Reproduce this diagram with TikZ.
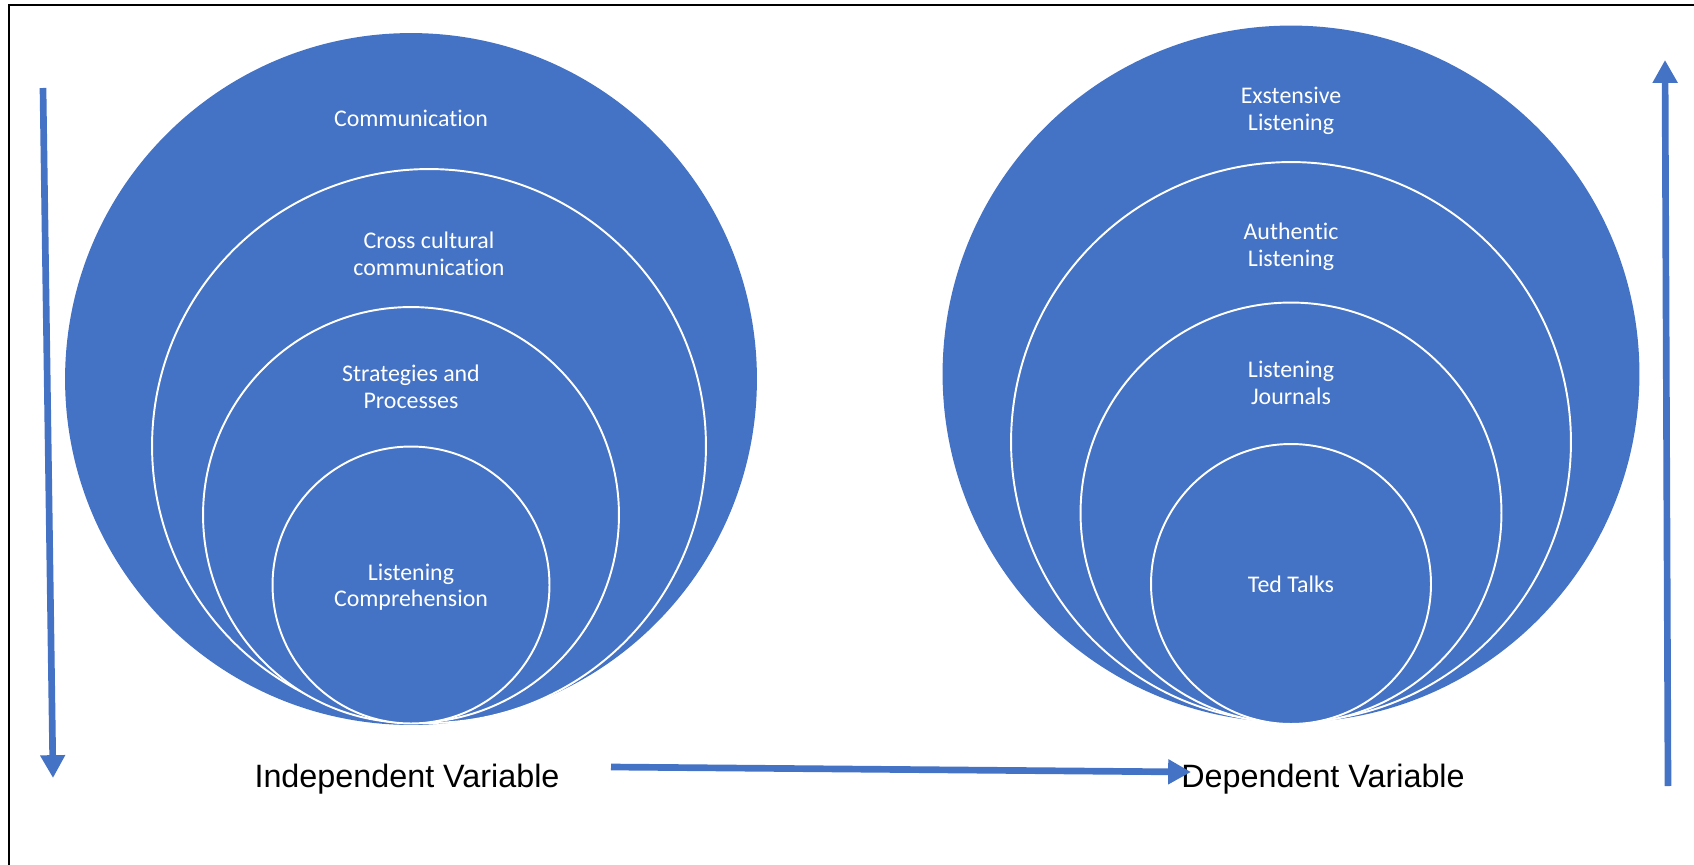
\documentclass[tikz,border=0pt]{standalone}
\usepackage{fontspec}
\setmainfont{Carlito}[Ligatures=NoCommon]
\newfontfamily\arialfont{Liberation Sans}
\usetikzlibrary{arrows.meta, positioning}
\definecolor{ringblue}{HTML}{4472C4}

\begin{document}
\begin{tikzpicture}[
  x=0.02cm, y=-0.02cm,
  outer/.style={circle, fill=ringblue, draw=none, inner sep=0pt},
  ring/.style={circle, fill=ringblue, draw=white, line width=1.1pt, inner sep=0pt},
  lbl/.style={text=white, align=center, inner sep=0pt, font=\fontsize{13.6}{15.1}\selectfont},
  var/.style={anchor=base, inner sep=0pt, font=\arialfont\fontsize{18.4}{21}\selectfont},
  flow/.style={draw=ringblue, line width=3.8pt, -{Triangle[length=13pt,width=13.5pt]}}]

  \useasboundingbox (0,0) rectangle (1694,865);
  \draw[line width=0.8pt] (9,865) -- (9,5) -- (1694,5);

  % independent side
  \node[outer, minimum size=13.84cm] (comm) at (411,379) {};
  \node[ring, minimum size=11.08cm] (cross) at (429,446) {};
  \node[ring, minimum size=8.32cm] (strat) at (411,515) {};
  \node[ring, minimum size=5.54cm] (listcomp) at (411,585) {};

  \node[lbl] (commtxt) at (411,118) {Communication};
  \node[lbl] (crosstxt) at (429,254) {Cross cultural\\communication};
  \node[lbl] (strattxt) at (411,387) {Strategies and\\Processes};
  \node[lbl] (listcomptxt) at (411,587) {Listening\\Comprehension};

  % dependent side
  \node[outer, minimum size=13.94cm] (ext) at (1291,374) {};
  \node[ring, minimum size=11.2cm] (auth) at (1291,442) {};
  \node[ring, minimum size=8.42cm] (journ) at (1291,513) {};
  \node[ring, minimum size=5.6cm] (ted) at (1291,584) {};

  \node[lbl] (exttxt) at (1291,111) {Exstensive\\Listening};
  \node[lbl] (authtxt) at (1291,247) {Authentic\\Listening};
  \node[lbl] (journtxt) at (1291,383) {Listening\\Journals};
  \node[lbl] (tedtxt) at (1291,584) {Ted Talks};

  % variables
  \node[var] (indep) at (407,787) {Independent Variable};
  \node[var] (dep) at (1323,787) {Dependent Variable};

  \coordinate (down1) at (43,88);
  \coordinate (down2) at (53,778);
  \coordinate (across1) at (611,767);
  \coordinate (across2) at (1191,772);
  \coordinate (up1) at (1668,786);
  \coordinate (up2) at (1665,60);

  \draw[flow] (down1) -- (down2);
  \draw[flow] (across1) -- (across2);
  \draw[flow] (up1) -- (up2);
\end{tikzpicture}
\end{document}
